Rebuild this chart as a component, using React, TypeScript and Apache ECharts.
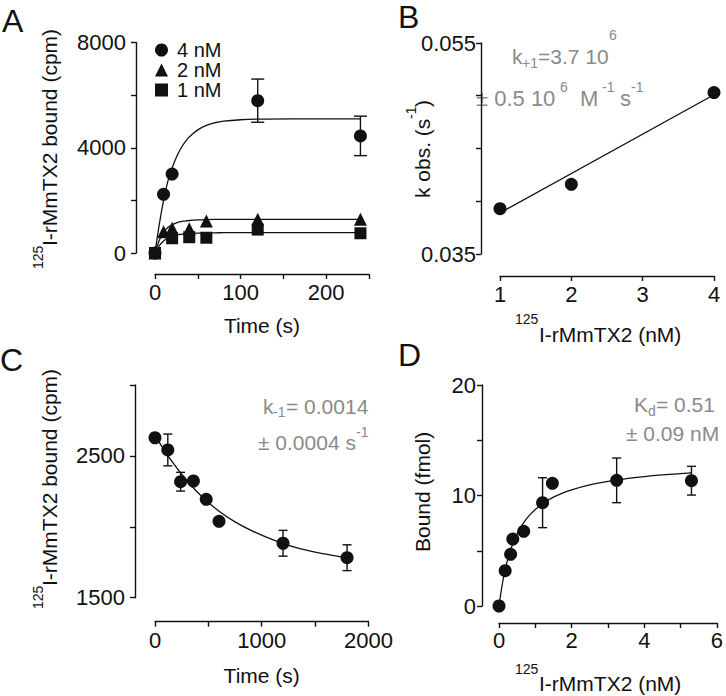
import React, { useEffect, useRef } from 'react';
import * as echarts from 'echarts';

const FONT = '"Liberation Sans", Arial, Helvetica, sans-serif';
const INK = '#111111';
const GRAY = '#8a8a8a';

// ---------- Panel A: association time course ----------
const timeA4 = [0, 10, 20, 120, 240];
const boundA4 = [0, 2230, 3000, 5790, 4450];
const errA4 = [0, 0, 0, 820, 750];
const timeA2 = [0, 10, 20, 40, 60, 120, 240];
const boundA2 = [0, 810, 940, 920, 1220, 1280, 1280];
const timeA1 = [0, 20, 40, 60, 120, 240];
const boundA1 = [0, 560, 600, 580, 890, 750];
const fitTimeA = [0, 5, 10, 15, 20, 25, 30, 35, 40, 50, 60, 70, 80, 100, 120, 160, 200, 240];
const fitA4 = [0, 1090, 2000, 2720, 3230, 3640, 3960, 4210, 4410, 4680, 4850, 4950, 5010, 5065, 5090, 5100, 5100, 5100];
const fitA2 = [0, 480, 790, 970, 1075, 1145, 1190, 1215, 1235, 1258, 1270, 1276, 1279, 1280, 1280, 1280, 1280, 1280];
const fitA1 = [0, 280, 460, 570, 635, 678, 706, 725, 738, 754, 763, 768, 771, 774, 775, 775, 775, 775];
const labelsAX = [0, 100, 200];
const labelsAY = [0, 4000, 8000];

// ---------- Panel B: k obs vs concentration ----------
const concB = [1, 2, 4];
const kobsB = [0.0393, 0.0416, 0.0503];
const fitConcB = [1, 4];
const fitKobsB = [0.0389, 0.0501];
const labelsBX = [1, 2, 3, 4];
const labelsBY = ['0.035', '0.055'];

// ---------- Panel C: dissociation ----------
const timeC = [0, 120, 240, 360, 480, 600, 1200, 1800];
const boundC = [2628, 2542, 2318, 2323, 2194, 2039, 1884, 1782];
const errC = [0, 112, 66, 0, 0, 0, 91, 91];
const fitTimeC = [0, 150, 300, 450, 600, 750, 900, 1050, 1200, 1350, 1500, 1650, 1800];
const fitBoundC = [2645, 2470, 2325, 2205, 2110, 2035, 1975, 1925, 1882, 1848, 1822, 1800, 1780];
const labelsCX = [0, 1000, 2000];
const labelsCY = [1500, 2500];

// ---------- Panel D: saturation ----------
const concD = [0, 0.17, 0.32, 0.38, 0.68, 1.2, 1.47, 3.24, 5.3];
const boundD = [0, 3.2, 4.68, 6.06, 6.76, 9.35, 11.1, 11.37, 11.34];
const errD = [0, 0, 0, 0, 0, 2.26, 0, 2.02, 1.3];
const fitConcD = [0, 0.1, 0.2, 0.3, 0.4, 0.5, 0.6, 0.7, 0.8, 0.9, 1.0, 1.25, 1.5, 1.75, 2, 2.5, 3, 3.5, 4, 4.5, 5, 5.3];
const fitBoundD = [0, 2.15, 3.72, 4.89, 5.8, 6.53, 7.13, 7.63, 8.06, 8.42, 8.74, 9.37, 9.85, 10.22, 10.52, 10.96, 11.28, 11.52, 11.71, 11.86, 11.98, 12.04];
const labelsDX = [0, 2, 4, 6];
const labelsDY = [0, 10, 20];

const pair = (xs: number[], ys: number[]) => xs.map((x, i) => [x, ys[i]]);
const errData = (xs: number[], ys: number[], es: number[]) =>
  xs.map((x, i) => [x, ys[i], es[i]]).filter((d) => d[2] > 0);

const showIf = (list: number[]) => (v: number) =>
  list.some((l) => Math.abs(l - v) < 1e-9) ? String(v) : '';

let ctx: CanvasRenderingContext2D | null = null;
const measure = (t: string, fs: number) => {
  if (!ctx) ctx = document.createElement('canvas').getContext('2d');
  if (!ctx) return t.length * fs * 0.55;
  ctx.font = `normal ${fs}px ${FONT}`;
  return ctx.measureText(t).width;
};

type Seg = [string, 'm' | 'sup' | 'sub', number?];

const textStyle = (text: string, size: number, color: string, align: string) => ({
  text,
  fill: color,
  fontFamily: FONT,
  fontSize: size,
  fontWeight: 'normal',
  align,
  textAlign: align,
  verticalAlign: 'middle',
  textVerticalAlign: 'middle',
});

// lays out text pieces (main / superscript / subscript) as separate flat text elements
const richText = (segs: Seg[], x: number, y: number, o: any = {}) => {
  const fs = o.fs || 21;
  const sfs = o.sfs || 14;
  const color = o.color || INK;
  const supDy = o.supDy ?? -11;
  const subDy = o.subDy ?? 7;
  const rot = o.rot || 0;
  const widths = segs.map((s) => measure(s[0], s[1] === 'm' ? fs : sfs));
  const total = widths.reduce((a, b) => a + b, 0);
  const align = o.align || 'center';
  let cx = align === 'left' ? 0 : align === 'center' ? -total / 2 : -total;
  return segs.map((s, i) => {
    const size = s[1] === 'm' ? fs : sfs;
    const trimmed = s[0].replace(/^\s+/, '');
    const lead = s[0].length - trimmed.length;
    const dy = s[2] !== undefined ? s[2] : s[1] === 'm' ? 0 : s[1] === 'sup' ? supDy : subDy;
    const lx = cx + (lead ? measure(' '.repeat(lead), size) : 0);
    cx += widths[i];
    const sx = rot ? x + dy : x + lx;
    const sy = rot ? y - lx : y + dy;
    return {
      type: 'text',
      x: Math.round(sx),
      y: Math.round(sy),
      rotation: rot,
      silent: true,
      style: textStyle(trimmed, size, color, 'left'),
    };
  });
};

const letter = (t: string, x: number, y: number) => ({
  type: 'text',
  x,
  y,
  silent: true,
  style: textStyle(t, 32, INK, 'left'),
});

const axisBase = (extra: any) => ({
  type: 'value',
  splitLine: { show: false },
  axisLine: { show: true, onZero: false, lineStyle: { color: INK, width: 1.4 } },
  axisTick: { show: true, inside: false, length: 5, lineStyle: { color: INK, width: 1.4 } },
  ...extra,
  axisLabel: { color: INK, fontSize: 22, fontFamily: FONT, ...(extra.axisLabel || {}) },
});

const xName = (name: string, gap: number) => ({
  name,
  nameLocation: 'middle',
  nameGap: gap,
  nameTextStyle: { color: INK, fontSize: 21, fontFamily: FONT, fontWeight: 'normal' },
});

const errRender = (capHalf: number) => (params: any, api: any) => {
  const x = api.value(0);
  const y = api.value(1);
  const e = api.value(2);
  const top = api.coord([x, y + e]);
  const bot = api.coord([x, y - e]);
  const style = { stroke: INK, lineWidth: 1.4 };
  return {
    type: 'group',
    children: [
      { type: 'line', shape: { x1: top[0], y1: top[1], x2: bot[0], y2: bot[1] }, style },
      { type: 'line', shape: { x1: top[0] - capHalf, y1: top[1], x2: top[0] + capHalf, y2: top[1] }, style },
      { type: 'line', shape: { x1: bot[0] - capHalf, y1: bot[1], x2: bot[0] + capHalf, y2: bot[1] }, style },
    ],
  };
};

const lineSeries = (data: number[][], idx: number) => ({
  type: 'line',
  data,
  xAxisIndex: idx,
  yAxisIndex: idx,
  showSymbol: false,
  smooth: 0.4,
  clip: false,
  silent: true,
  lineStyle: { color: INK, width: 1.3 },
  z: 2,
});

const scatter = (name: string, data: number[][], idx: number, symbol: string, size: number) => ({
  type: 'scatter',
  name,
  data,
  xAxisIndex: idx,
  yAxisIndex: idx,
  symbol,
  symbolSize: size,
  clip: false,
  silent: true,
  itemStyle: { color: INK, opacity: 1 },
  z: 3,
});

const errSeries = (data: number[][], idx: number, capHalf: number) => ({
  type: 'custom',
  data,
  xAxisIndex: idx,
  yAxisIndex: idx,
  encode: { x: 0, y: 1 },
  renderItem: errRender(capHalf),
  silent: true,
  z: 2,
});

const buildOption = (): any => ({
  animation: false,
  backgroundColor: '#ffffff',
  textStyle: { fontFamily: FONT, fontWeight: 'normal' },
  grid: [
    { left: 155, top: 42.5, width: 214, height: 210.5 },
    { left: 500, top: 43, width: 214, height: 211 },
    { left: 155, top: 385, width: 213.4, height: 212.7 },
    { left: 499, top: 385, width: 220, height: 221 },
  ],
  xAxis: [
    axisBase({ gridIndex: 0, min: 0, max: 250, interval: 50, position: 'bottom', offset: 21,
      ...xName('Time (s)', 41),
      axisLabel: { margin: 7, formatter: showIf(labelsAX) } }),
    axisBase({ gridIndex: 1, min: 1, max: 4, interval: 1, position: 'bottom', offset: 22,
      axisLabel: { margin: 7, formatter: showIf(labelsBX) } }),
    axisBase({ gridIndex: 2, min: 0, max: 2000, interval: 500, position: 'bottom', offset: 24,
      ...xName('Time (s)', 43),
      axisLabel: { margin: 8, formatter: showIf(labelsCX) } }),
    axisBase({ gridIndex: 3, min: 0, max: 6, interval: 1, position: 'bottom', offset: 17,
      axisLabel: { margin: 6, formatter: showIf(labelsDX) } }),
  ],
  yAxis: [
    axisBase({ gridIndex: 0, min: 0, max: 8000, interval: 2000, position: 'left', offset: 19,
      axisLabel: { margin: 10, formatter: showIf(labelsAY) } }),
    axisBase({ gridIndex: 1, min: 0.035, max: 0.055, interval: 0.005, position: 'left', offset: 19,
      axisLabel: { margin: 5, formatter: (v: number) => {
        const s = v.toFixed(3);
        return labelsBY.includes(s) ? s : '';
      } } }),
    axisBase({ gridIndex: 2, min: 1500, max: 3000, interval: 500, position: 'left', offset: 20,
      axisLabel: { margin: 10, formatter: showIf(labelsCY) } }),
    axisBase({ gridIndex: 3, min: 0, max: 20, interval: 5, position: 'left', offset: 17,
      axisLabel: { margin: 6, formatter: showIf(labelsDY) } }),
  ],
  legend: {
    data: [
      { name: '4 nM', icon: 'circle' },
      { name: '2 nM', icon: 'triangle' },
      { name: '1 nM', icon: 'rect' },
    ],
    left: 150,
    top: 35,
    orient: 'vertical',
    itemWidth: 13,
    itemHeight: 13,
    itemGap: 0,
    selectedMode: false,
    textStyle: { fontSize: 20, fontFamily: FONT, color: INK, padding: [0, 0, 0, 4] },
  },
  series: [
    // A
    lineSeries(pair(fitTimeA, fitA4), 0),
    lineSeries(pair(fitTimeA, fitA2), 0),
    lineSeries(pair(fitTimeA, fitA1), 0),
    errSeries(errData(timeA4, boundA4, errA4), 0, 6.5),
    scatter('4 nM', pair(timeA4, boundA4), 0, 'circle', 13),
    scatter('2 nM', pair(timeA2, boundA2), 0, 'triangle', 13),
    scatter('1 nM', pair(timeA1, boundA1), 0, 'rect', 12),
    // B
    lineSeries(pair(fitConcB, fitKobsB), 1),
    scatter('B', pair(concB, kobsB), 1, 'circle', 13),
    // C
    lineSeries(pair(fitTimeC, fitBoundC), 2),
    errSeries(errData(timeC, boundC, errC), 2, 4.5),
    scatter('C', pair(timeC, boundC), 2, 'circle', 13),
    // D
    lineSeries(pair(fitConcD, fitBoundD), 3),
    errSeries(errData(concD, boundD, errD), 3, 4.5),
    scatter('D', pair(concD, boundD), 3, 'circle', 13),
  ],
  graphic: [
    letter('A', 2, 21),
    letter('B', 398, 17),
    letter('C', 0, 360),
    letter('D', 398, 355),
    // axis titles with superscripts
    ...richText([['125', 'sup'], ['I-rMmTX2 bound (cpm)', 'm']], 49, 149, { rot: Math.PI / 2 }),
    ...richText([['k obs. (s', 'm'], ['-1', 'sup'], [')', 'm']], 422, 149, { rot: Math.PI / 2 }),
    ...richText([['125', 'sup'], ['I-rMmTX2 (nM)', 'm']], 598, 334, { supDy: -15 }),
    ...richText([['125', 'sup'], ['I-rMmTX2 bound (cpm)', 'm']], 49, 489, { rot: Math.PI / 2 }),
    ...richText([['Bound (fmol)', 'm']], 422, 492, { rot: Math.PI / 2 }),
    ...richText([['125', 'sup'], ['I-rMmTX2 (nM)', 'm']], 598, 683, { supDy: -14 }),
    // annotations
    ...richText([['k', 'm'], ['+1', 'sub'], ['=3.7 10', 'm'], ['6', 'sup', -21]], 564, 56, { color: GRAY }),
    ...richText([['± 0.5 10', 'm'], [' 6', 'sup'], ['  M', 'm'], [' -1', 'sup'], [' s', 'm'], ['-1', 'sup']], 560, 98,
      { color: GRAY, fs: 22, supDy: -11 }),
    ...richText([['k', 'm'], ['-1', 'sub'], ['= 0.0014', 'm']], 368, 406, { color: GRAY, align: 'right', subDy: 6 }),
    ...richText([['± 0.0004 s', 'm'], ['-1', 'sup']], 368, 442, { color: GRAY, align: 'right', supDy: -10 }),
    ...richText([['K', 'm'], ['d', 'sub'], ['= 0.51', 'm']], 715, 404, { color: GRAY, align: 'right', subDy: 7 }),
    ...richText([['± 0.09 nM', 'm']], 719, 433, { color: GRAY, align: 'right' }),
  ],
});

export default function App() {
  const ref = useRef<HTMLDivElement>(null);
  useEffect(() => {
    document.body.style.margin = '0';
    const chart = echarts.init(ref.current as HTMLDivElement, undefined, { renderer: 'svg' });
    chart.setOption(buildOption());
    return () => chart.dispose();
  }, []);
  return <div ref={ref} style={{ width: 726, height: 696, background: '#fff' }} />;
}
